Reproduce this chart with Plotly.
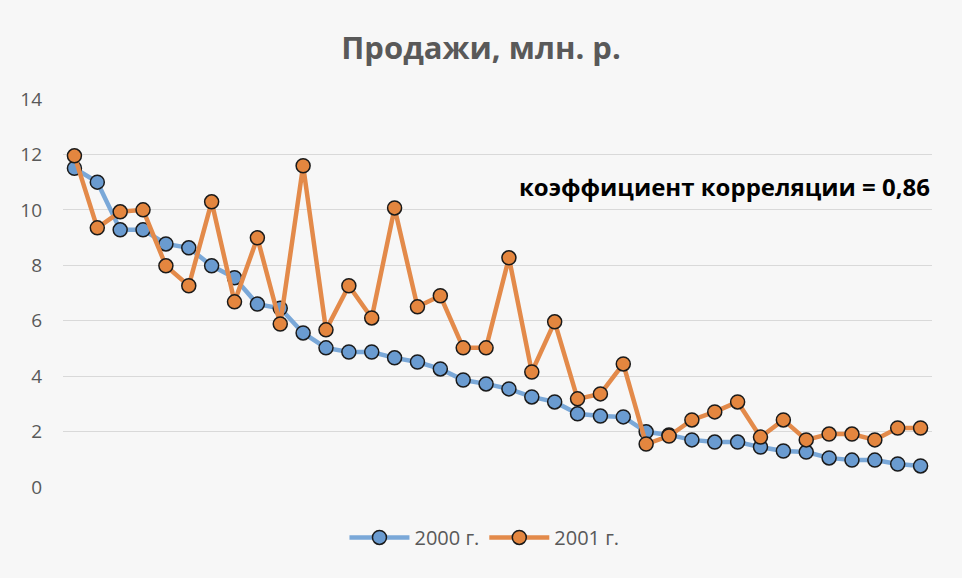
import plotly.graph_objects as go

categories = list(range(1, 39))
sales_2000 = [11.5, 11.0, 9.28, 9.28, 8.77, 8.63, 7.98, 7.55, 6.6, 6.45,
              5.56, 5.02, 4.87, 4.87, 4.66, 4.51, 4.26, 3.86, 3.72, 3.54,
              3.25, 3.07, 2.64, 2.56, 2.53, 1.99, 1.88, 1.7, 1.62, 1.62,
              1.44, 1.3, 1.26, 1.05, 0.97, 0.97, 0.83, 0.76]
sales_2001 = [11.95, 9.35, 9.93, 10.0, 7.98, 7.26, 10.29, 6.68, 8.99, 5.88,
              11.59, 5.67, 7.26, 6.1, 10.07, 6.5, 6.9, 5.02, 5.02, 8.27,
              4.15, 5.96, 3.18, 3.36, 4.44, 1.55, 1.84, 2.42, 2.71, 3.07,
              1.8, 2.42, 1.7, 1.91, 1.91, 1.7, 2.13, 2.13]
series_names = ["2000 г.", "2001 г."]
y_ticks = [0, 2, 4, 6, 8, 10, 12, 14]

FONT = "Open Sans"
BG = "#f7f7f7"

fig = go.Figure()
for name, vals, lcol, mcol in [(series_names[0], sales_2000, "#7aa8d8", "#6a9bd0"),
                               (series_names[1], sales_2001, "#e38a4a", "#e4863f")]:
    fig.add_trace(go.Scatter(
        x=categories, y=vals, name=name, mode="lines+markers",
        line=dict(color=lcol, width=4.5),
        marker=dict(size=14, color=mcol, line=dict(color="#1a1a1a", width=1.5)),
    ))

fig.update_layout(
    width=962, height=578,
    margin=dict(l=63, r=30, t=99, b=91),
    paper_bgcolor=BG, plot_bgcolor=BG,
    title=dict(text="<b>Продажи, млн. р.</b>", x=0.5, xanchor="center",
               y=1 - 48 / 578, yanchor="middle",
               font=dict(family=FONT, size=31, color="#595959")),
    xaxis=dict(range=[0.5, 38.5], showticklabels=False, showgrid=False,
               zeroline=False, showline=False, ticks=""),
    yaxis=dict(range=[0, 14], tickvals=y_ticks, showgrid=True,
               gridcolor="#d9d9d9", gridwidth=1, zeroline=False,
               showline=False, ticks="", ticklabelstandoff=20,
               tickfont=dict(family=FONT, size=19, color="#595959")),
    legend=dict(orientation="h", x=0.485, xanchor="center", y=-0.13,
                yanchor="middle", bgcolor="rgba(0,0,0,0)",
                font=dict(family=FONT, size=20, color="#595959"),
                itemwidth=60),
    showlegend=True,
    annotations=[dict(text="<b>коэффициент корреляции = 0,86</b>",
                      xref="paper", yref="paper", x=1.0, xanchor="right",
                      y=(487 - 186) / 388, yanchor="middle", showarrow=False,
                      font=dict(family=FONT, size=24, color="#000000"))],
)

fig.write_html("out.html")
